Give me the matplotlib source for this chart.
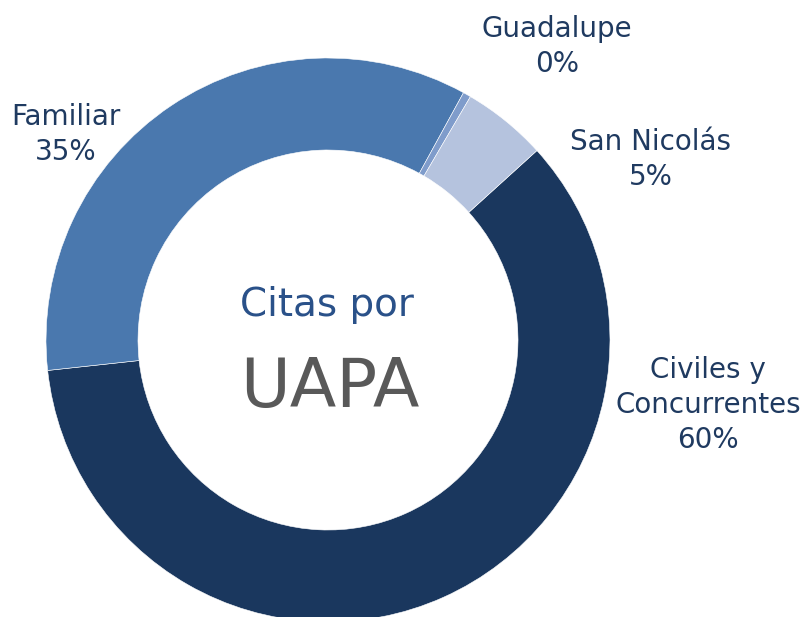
import matplotlib
matplotlib.use("Agg")
import matplotlib.pyplot as plt

# data (percent of appointments per unit), clockwise order
categories = ["Civiles y\nConcurrentes", "Familiar", "Guadalupe", "San Nicolás"]
shares = [60.0, 34.7, 0.45, 4.85]
colors = ["#1a375e", "#4a78ae", "#7f9ccb", "#b5c3de"]

# label anchors (x, last-line baseline) in pixel coords, y from top
label_pos = [(708, 448), (66, 160), (557, 72), (651, 185)]

W, H = 810, 617
fig = plt.figure(figsize=(W / 100, H / 100), dpi=100)
ax = fig.add_axes([0, 0, 1, 1])

cx, cy, r_out, r_in = 328, 340, 282, 190
ax.pie(shares, colors=colors, startangle=42.2, counterclock=False,
       radius=r_out, center=(cx, H - cy),
       wedgeprops=dict(width=r_out - r_in, edgecolor="white", linewidth=0.4))

ax.set_xlim(0, W)
ax.set_ylim(0, H)
ax.set_aspect("auto")
ax.axis("off")

txt_color = "#1f3a60"
for name, val, (x, y) in zip(categories, shares, label_pos):
    ax.text(x, H - y, f"{name}\n{val:.0f}%", ha="center", va="baseline",
            multialignment="center", fontsize=20, color=txt_color,
            linespacing=1.32)

ax.text(327, H - 316, "Citas por", ha="center", va="baseline",
        fontsize=28, color="#2a5189")
ax.text(330, H - 407, "UAPA", ha="center", va="baseline",
        fontsize=49, color="#595959")

fig.savefig("out.png", dpi=100)
